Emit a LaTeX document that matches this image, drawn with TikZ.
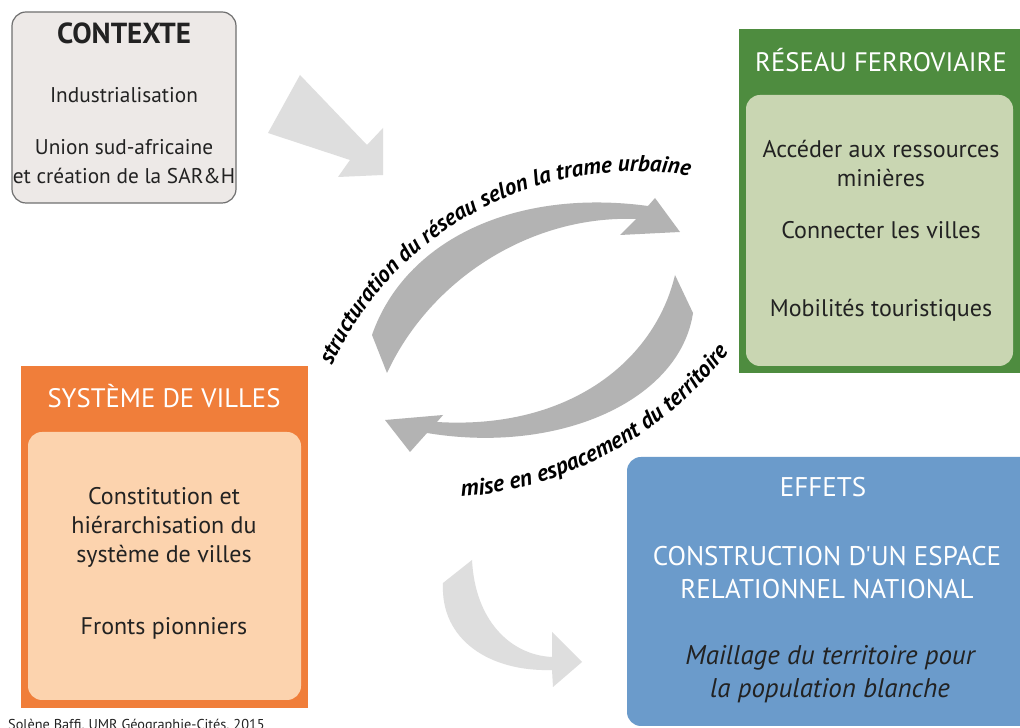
\documentclass[tikz,border=0pt]{standalone}
\usepackage{fontspec}
\setmainfont{PT Sans}
\newfontfamily\plainfont{PT Sans}
\usetikzlibrary{decorations.text}
\definecolor{ctxfill}{HTML}{EDE9E7}
\definecolor{ctxline}{HTML}{707070}
\definecolor{grnout}{HTML}{4E8C3F}
\definecolor{grnin}{HTML}{C9D6B2}
\definecolor{orgout}{HTML}{F07E3A}
\definecolor{orgin}{HTML}{FCD3AE}
\definecolor{bluefill}{HTML}{6B9BCB}
\definecolor{arrowlight}{HTML}{DEDEDE}
\definecolor{arrowdark}{HTML}{B3B3B3}
\definecolor{txtdark}{HTML}{222222}
\tikzset{
  boxshape/.style={rectangle, inner sep=0pt, draw=none},
  roundbox/.style={boxshape, rounded corners=14pt},
  ctxtext/.style={text=txtdark, align=center, inner sep=0pt, font=\fontsize{21.3}{29}\selectfont},
  bodytext/.style={text=txtdark, align=center, inner sep=0pt, font=\fontsize{24}{29}\selectfont},
  titletext/.style={text=white, align=center, inner sep=0pt, font=\fontsize{26.7}{30}\selectfont},
  whitetext/.style={text=white, align=center, inner sep=0pt, font=\plainfont\fontsize{27}{33}\selectfont},
  italtext/.style={text=txtdark, align=center, inner sep=0pt, font=\itshape\fontsize{27}{33}\selectfont},
}
\newcommand{\curvefont}{\bfseries\itshape\fontsize{23}{23}\selectfont}
\newcommand{\curvefontb}{\bfseries\itshape\fontsize{23.5}{23.5}\selectfont}
\begin{document}
\begin{tikzpicture}[x=1pt,y=1pt]
\clip (0,0) rectangle (1020,728);
\fill[white] (0,0) rectangle (1020,728);

% ---- boxes
\node[roundbox, fill=ctxfill, draw=ctxline, line width=1.2pt, minimum width=224, minimum height=191] (ctx) at (124,620.5) {};
\node[boxshape, fill=grnout, minimum width=281, minimum height=344] (res) at (879.5,527) {};
\node[roundbox, fill=grnin, minimum width=267, minimum height=271] (resin) at (879.5,497.5) {};
\node[boxshape, fill=orgout, minimum width=287, minimum height=342] (sys) at (164.5,191) {};
\node[roundbox, fill=orgin, minimum width=273, minimum height=268] (sysin) at (164.5,162) {};
\node[roundbox, fill=bluefill, minimum width=413, minimum height=269] (eff) at (833.5,136.5) {};

% ---- texts
\node[text=txtdark, inner sep=0pt, font=\bfseries\fontsize{29}{30}\selectfont] (ctxt) at (124,695) {CONTEXTE};
\node[ctxtext] (ctx1) at (124,633) {Industrialisation};
\node[ctxtext] (ctx2) at (124,566) {Union sud-africaine\\et création de la SAR\&H};

\node[titletext] (rest) at (881,668) {RÉSEAU FERROVIAIRE};
\node[bodytext] (res1) at (881,564) {Accéder aux ressources\\minières};
\node[bodytext] (res2) at (881,498) {Connecter les villes};
\node[bodytext] (res3) at (881,418) {Mobilités touristiques};

\node[titletext] (syst) at (164,332) {SYSTÈME DE VILLES};
\node[bodytext] (sys1) at (164,201) {Constitution et\\hiérarchisation du\\système de villes};
\node[bodytext] (sys2) at (164,100) {Fronts pionniers};

\node[whitetext] (efft) at (823,241) {EFFETS};
\node[whitetext] (eff1) at (827,155.5) {CONSTRUCTION D'UN ESPACE\\RELATIONNEL NATIONAL};
\node[italtext] (eff2) at (830,53.5) {Maillage du territoire pour\\la population blanche};

\node[anchor=base west, inner sep=0pt, text=txtdark, font=\fontsize{14.3}{14}\selectfont] (credit) at (8,-2) {Solène Baffi, UMR Géographie-Cités, 2015};

% ---- block arrows
\fill[arrowlight] (300,653) -- (367,583) -- (383,600) -- (383,553) -- (338,551) -- (350,568) -- (268,595) -- cycle;

\fill[arrowdark] (372,393) .. controls (405,488) and (515,540) .. (648,522)
  -- (655,530) -- (680,496) -- (620,493) -- (636,509)
  .. controls (530,513) and (430,448) .. (387,355) -- cycle;

\fill[arrowdark] (675,453) .. controls (655,368) and (570,298) .. (437,306)
  -- (443,313) -- (385,308) -- (410,276) -- (427,295)
  .. controls (560,273) and (680,328) .. (693,415) -- cycle;

\fill[arrowlight] (472,168) .. controls (475,108) and (510,73) .. (552,71)
  -- (552,96) -- (582,66) -- (553,41) -- (552,58)
  .. controls (490,56) and (440,88) .. (443,145) -- cycle;

% ---- curved labels
\path[decorate, decoration={text along path, text align=center,
  text={|\curvefont|structuration du réseau selon la trame urbaine}}]
  (635,223) ++(163:333.5) arc[start angle=163, end angle=73, radius=333.5];
\path[decorate, decoration={text along path, text align=center,
  text={|\curvefontb|mise en espacement du territoire}}]
  (432,604) ++(-95:374) arc[start angle=-95, end angle=-28, radius=374];
\end{tikzpicture}
\end{document}
